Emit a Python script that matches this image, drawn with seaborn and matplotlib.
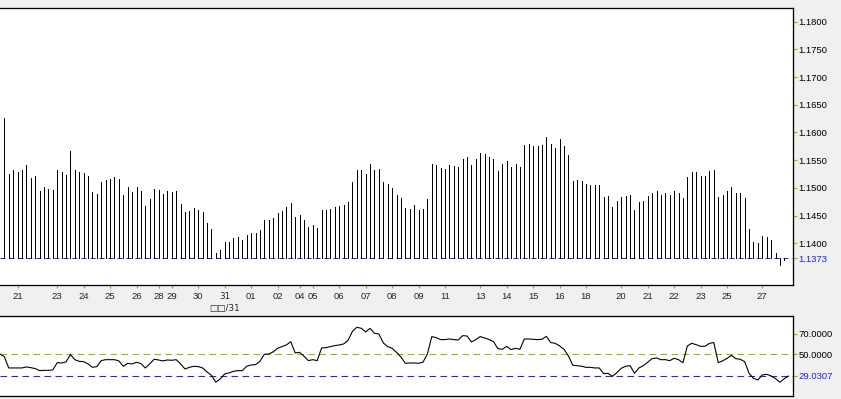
import matplotlib
matplotlib.use("Agg")
import matplotlib.pyplot as plt
import pandas as pd
import seaborn as sns

# price bars (drawn from the current price line), last value = current price
price = [
    1.1627, 1.1525, 1.1532, 1.1529, 1.1532, 1.1541, 1.1518, 1.1521, 1.1495, 1.1502,
    1.1498, 1.1496, 1.1532, 1.1529, 1.1523, 1.1567, 1.1532, 1.1529, 1.1527, 1.1521,
    1.1493, 1.1489, 1.1511, 1.1514, 1.1516, 1.1520, 1.1516, 1.1487, 1.1502, 1.1493,
    1.1502, 1.1494, 1.1467, 1.1480, 1.1498, 1.1496, 1.1489, 1.1494, 1.1493, 1.1494,
    1.1471, 1.1456, 1.1458, 1.1464, 1.1460, 1.1456, 1.1437, 1.1426, 1.1382, 1.1388,
    1.1402, 1.1402, 1.1410, 1.1411, 1.1406, 1.1415, 1.1419, 1.1419, 1.1424, 1.1442,
    1.1442, 1.1446, 1.1455, 1.1458, 1.1466, 1.1473, 1.1447, 1.1451, 1.1442, 1.1429,
    1.1433, 1.1428, 1.1460, 1.1460, 1.1462, 1.1466, 1.1467, 1.1469, 1.1475, 1.1511,
    1.1532, 1.1532, 1.1525, 1.1543, 1.1532, 1.1534, 1.1511, 1.1507, 1.1500, 1.1487,
    1.1482, 1.1464, 1.1462, 1.1469, 1.1460, 1.1462, 1.1480, 1.1543, 1.1541, 1.1536,
    1.1534, 1.1541, 1.1539, 1.1538, 1.1552, 1.1556, 1.1541, 1.1552, 1.1563, 1.1561,
    1.1556, 1.1552, 1.1530, 1.1543, 1.1549, 1.1538, 1.1543, 1.1538, 1.1577, 1.1579,
    1.1576, 1.1576, 1.1577, 1.1592, 1.1579, 1.1572, 1.1588, 1.1576, 1.1559, 1.1512,
    1.1514, 1.1512, 1.1507, 1.1505, 1.1505, 1.1505, 1.1484, 1.1485, 1.1466, 1.1476,
    1.1484, 1.1486, 1.1488, 1.1460, 1.1475, 1.1477, 1.1486, 1.1491, 1.1495, 1.1488,
    1.1491, 1.1488, 1.1495, 1.1490, 1.1481, 1.1520, 1.1529, 1.1529, 1.1522, 1.1522,
    1.1531, 1.1533, 1.1484, 1.1488, 1.1495, 1.1502, 1.1490, 1.1491, 1.1482, 1.1425,
    1.1403, 1.1401, 1.1414, 1.1412, 1.1406, 1.1383, 1.1360, 1.1370, 1.1373,
]

# RSI, first value belongs to the bar just left of the window
rsi_start = -1
rsi = [
    50.3, 47.7, 36.8, 36.8, 36.8, 36.8, 37.8, 37.1, 36.2, 34.2,
    34.5, 34.5, 34.9, 41.9, 41.6, 42.6, 49.7, 44.8, 43.2, 42.9,
    40.7, 37.4, 38.1, 43.9, 44.8, 44.8, 44.8, 43.6, 38.4, 41.3,
    40.7, 42.3, 41.0, 36.8, 40.7, 45.2, 44.5, 43.6, 44.5, 44.2,
    44.8, 40.7, 35.8, 37.4, 38.4, 38.1, 36.8, 32.9, 29.7, 23.0,
    26.2, 31.0, 32.0, 33.6, 34.2, 34.2, 38.4, 39.7, 40.0, 43.2,
    50.0, 50.3, 52.3, 55.8, 57.4, 59.0, 62.2, 51.3, 51.9, 48.1,
    43.9, 44.8, 43.9, 56.1, 56.4, 57.4, 58.4, 59.0, 60.0, 63.5,
    72.2, 76.1, 75.1, 71.6, 75.1, 70.3, 69.6, 61.0, 57.4, 55.8,
    51.9, 47.4, 41.3, 41.6, 41.6, 41.3, 42.3, 50.3, 67.1, 66.1,
    64.2, 64.2, 64.8, 64.2, 63.8, 68.0, 67.7, 61.9, 64.2, 67.1,
    65.8, 64.2, 62.2, 55.5, 54.8, 57.7, 54.5, 55.8, 54.8, 64.8,
    64.8, 64.5, 64.2, 64.5, 67.4, 61.3, 60.6, 58.1, 54.8, 48.4,
    39.4, 39.0, 38.4, 37.4, 37.4, 36.8, 36.8, 31.3, 31.6, 28.7,
    32.3, 36.5, 38.4, 39.0, 31.6, 36.8, 39.0, 42.3, 45.8, 46.5,
    44.8, 44.8, 43.9, 46.1, 44.8, 41.9, 58.1, 60.6, 59.3, 57.7,
    57.7, 60.6, 61.3, 42.0, 43.6, 46.1, 49.0, 45.8, 45.2, 42.9,
    31.6, 26.8, 25.2, 30.0, 30.7, 29.1, 26.5, 23.0, 26.5, 29.0307,
]

# day ticks (bar index) and their labels
tick_pos = [3, 12, 18, 24, 30, 35, 38, 44, 50, 56, 62, 67, 70, 76, 82,
            88, 94, 100, 108, 114, 120, 126, 132, 140, 146, 152, 158, 164, 172]
tick_txt = ["21", "23", "24", "25", "26", "28", "29", "30", "31\n□□/31", "01",
            "02", "04", "05", "06", "07", "08", "09", "11", "13", "14",
            "15", "16", "18", "20", "21", "22", "23", "25", "27"]
price_ticks = [1.1400, 1.1450, 1.1500, 1.1550, 1.1600, 1.1650, 1.1700, 1.1750, 1.1800]
rsi_ticks = [70.0, 50.0]
rsi_mid = 50.0

olive = "#9ab800"
blue = "#2020ff"
px = 0.72  # one pixel in points

sns.set_style("white")
plt.rcParams['font.family'] = ['Liberation Sans', 'DejaVu Sans']

bars = pd.DataFrame({"idx": range(len(price)), "price": price})
osc = pd.DataFrame({"idx": range(rsi_start, rsi_start + len(rsi)), "rsi": rsi})
cur_price = price[-1]
cur_rsi = rsi[-1]

fig = plt.figure(figsize=(8.41, 3.99), dpi=100, facecolor="#f0f0f0")
ax1 = fig.add_axes([0, 1 - 285 / 399, 793 / 841, 277 / 399])
ax2 = fig.add_axes([0, 1 - 396 / 399, 793 / 841, 80 / 399])

# top panel
ax1.axhline(cur_price, color=blue, lw=px, dashes=(5, 4), zorder=1)
ax1.vlines(bars["idx"], cur_price, bars["price"], colors="black", linewidth=px,
           antialiased=False, zorder=2)
ax1.set_xlim(-0.98, 178.97)
ax1.set_ylim(1.13247, 1.18247)
ax1.yaxis.tick_right()
ax1.set_yticks(price_ticks + [cur_price])
ax1.set_yticklabels([f"{v:.4f}" for v in price_ticks + [cur_price]])
ax1.set_xticks(tick_pos)
ax1.set_xticklabels(tick_txt, linespacing=1.45, va="top")

# bottom panel
ax2.axhline(rsi_mid, color=olive, lw=px * 1.1, dashes=(6, 4), zorder=1)
ax2.axhline(cur_rsi, color=blue, lw=px * 1.1, dashes=(6, 4), zorder=1)
sns.lineplot(data=osc, x="idx", y="rsi", ax=ax2, color="black", linewidth=px * 1.1,
             estimator=None, zorder=2)
ax2.set_xlim(-0.98, 178.97)
ax2.set_ylim(9.7, 87.0)
ax2.set_xticks([])
ax2.yaxis.tick_right()
ax2.set_yticks(rsi_ticks + [cur_rsi])
ax2.set_yticklabels([f"{v:.4f}" for v in rsi_ticks + [cur_rsi]])

for ax in (ax1, ax2):
    ax.set_facecolor("white")
    ax.set_xlabel("")
    ax.set_ylabel("")
    ax.spines["left"].set_visible(False)
    for side in ("top", "right", "bottom"):
        ax.spines[side].set_color("black")
        ax.spines[side].set_linewidth(px * 1.3)
    ax.tick_params(axis="y", which="major", right=True, left=False, length=2.6,
                   width=px * 1.2, color=olive, pad=1.2, labelsize=6.8,
                   labelcolor="black")
    ax.tick_params(axis="x", bottom=True, length=1.8, width=px * 1.2, color=olive,
                   pad=3, labelsize=6.8)
    # current-value tick drawn in blue
    last = ax.yaxis.get_major_ticks()[-1]
    last.tick2line.set_color(blue)
    last.label2.set_color(blue)

# the month label uses box glyphs, which only DejaVu draws at full size
for lab in ax1.get_xticklabels():
    if "\n" in lab.get_text():
        lab.set_fontfamily(["DejaVu Sans"])
        lab.set_fontsize(6.3)

fig.savefig("out.png", dpi=100, facecolor=fig.get_facecolor())
